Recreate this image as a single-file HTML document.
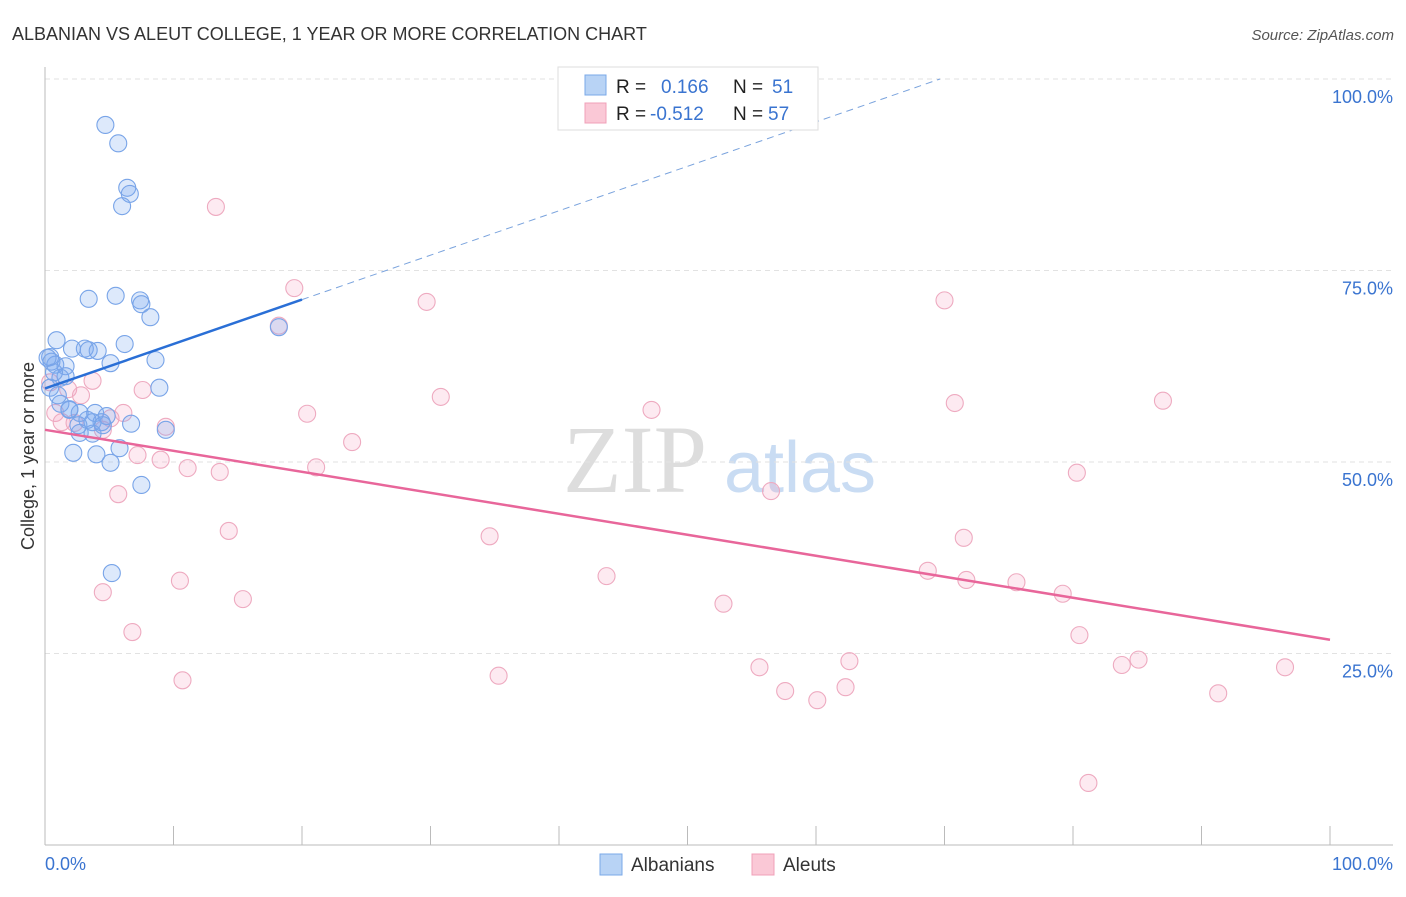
<!DOCTYPE html>
<html><head><meta charset="utf-8"><style>
body{margin:0;background:#fff;font-family:"Liberation Sans",sans-serif;}
</style></head><body>
<svg id="c" width="1406" height="892" xmlns="http://www.w3.org/2000/svg" style="font-family:'Liberation Sans',sans-serif">
<text x="12" y="40" font-size="18" fill="#333">ALBANIAN VS ALEUT COLLEGE, 1 YEAR OR MORE CORRELATION CHART</text>
<text x="1394" y="40" font-size="15" fill="#555" font-style="italic" text-anchor="end">Source: ZipAtlas.com</text>
<text x="635" y="492" font-size="96" fill="#ddd" font-family="Liberation Serif" text-anchor="middle">ZIP</text>
<text x="800" y="492" font-size="72" fill="#c9dcf3" text-anchor="middle">atlas</text>
<text x="34" y="456" font-size="18" fill="#333" text-anchor="middle" transform="rotate(-90 34 456)">College, 1 year or more</text>
<g id="grid"></g><g id="marks"></g>
<g>
<rect x="558" y="67" width="260" height="63" fill="#fff" stroke="#ddd"/>
<rect x="585" y="75" width="21" height="20" fill="#b8d3f5" stroke="#7aa8e8"/>
<rect x="585" y="103" width="21" height="20" fill="#fac8d6" stroke="#f0a0b8"/>
<text x="616" y="93" font-size="19" fill="#222">R = <tspan fill="#3a74d0" x="661">0.166</tspan><tspan fill="#222" x="733">N = </tspan><tspan fill="#3a74d0" x="772">51</tspan></text>
<text x="616" y="120" font-size="19" fill="#222">R = <tspan fill="#3a74d0" x="650">-0.512</tspan><tspan fill="#222" x="733">N = </tspan><tspan fill="#3a74d0" x="768">57</tspan></text>
</g>
<g>
<rect x="600" y="854" width="22" height="21" fill="#b8d3f5" stroke="#7aa8e8"/>
<text x="631" y="871" font-size="19" fill="#333">Albanians</text>
<rect x="752" y="854" width="22" height="21" fill="#fac8d6" stroke="#f0a0b8"/>
<text x="783" y="871" font-size="19" fill="#333">Aleuts</text>
</g>
</svg>
<script>
const yTicks=[25,50,75,100];
const yTickLabels=["25.0%","50.0%","75.0%","100.0%"];
const xTicks=[0,10,20,30,40,50,60,70,80,90,100];
const blueX=[4.7,5.7,6.4,6.6,6.0,3.4,5.5,7.4,7.5,8.2,0.9,3.1,3.4,4.1,2.1,6.2,5.1,8.6,0.4,0.8,0.5,1.6,1.2,1.6,8.9,0.4,1.2,1.9,2.7,3.9,4.8,4.4,3.7,2.6,6.7,9.4,2.7,3.7,5.8,2.2,4.0,5.1,7.5,5.2,18.2,1.9,1.0,3.3,4.5,0.2,0.7];
const blueY=[94.0,91.6,85.8,85.0,83.4,71.3,71.7,71.1,70.6,68.9,65.9,64.8,64.6,64.5,64.8,65.4,62.9,63.3,63.7,62.7,63.1,62.5,61.0,61.2,59.7,59.7,57.6,56.8,56.4,56.4,56.0,55.2,55.2,54.8,55.0,54.2,53.8,53.7,51.8,51.2,51.0,49.9,47.0,35.5,67.6,56.9,58.7,55.5,54.8,63.6,61.7];
const pinkX=[13.3,19.4,29.7,70.0,18.2,30.8,20.4,47.2,70.8,87.0,23.9,21.1,80.3,56.5,14.3,34.6,71.5,43.7,68.7,71.7,75.6,79.2,52.8,10.5,15.4,4.5,6.8,80.5,55.6,62.6,83.8,85.1,96.5,35.3,10.7,57.6,60.1,62.3,91.3,81.2,3.7,1.8,2.8,7.6,6.1,0.8,1.3,4.5,9.4,7.2,9.0,11.1,13.6,5.7,2.3,0.4,5.1];
const pinkY=[83.3,72.7,70.9,71.1,67.8,58.5,56.3,56.8,57.7,58.0,52.6,49.3,48.6,46.2,41.0,40.3,40.1,35.1,35.8,34.6,34.3,32.8,31.5,34.5,32.1,33.0,27.8,27.4,23.2,24.0,23.5,24.2,23.2,22.1,21.5,20.1,18.9,20.6,19.8,8.1,60.6,59.5,58.7,59.4,56.4,56.4,55.2,54.2,54.6,50.9,50.3,49.2,48.7,45.8,55.1,60.4,55.7];
const blueTrend=[59.6,0.58];
const pinkTrend=[54.2,-0.274];
const NS="http://www.w3.org/2000/svg";
const X=v=>45+v*12.85, Y=v=>845-v*7.66;
function mk(t,a,p){const e=document.createElementNS(NS,t);for(const k in a)e.setAttribute(k,a[k]);p.appendChild(e);return e;}
const g=document.getElementById('grid'),m=document.getElementById('marks');
yTicks.forEach((t,i)=>{
 const l=mk('line',{x1:45,x2:1393,y1:Y(t),y2:Y(t),stroke:'#e2e2e2','stroke-dasharray':'5,4'},g);
 
 
 const tx=mk('text',{x:1393,y:Y(t)+24,'font-size':18,fill:'#3a74d0','text-anchor':'end'},g);
 tx.textContent=yTickLabels[i];
 
 
});
mk('line',{x1:45,x2:45,y1:67,y2:845,stroke:'#bbb'},g);
mk('line',{x1:45,x2:1393,y1:845,y2:845,stroke:'#bbb'},g);
xTicks.forEach(t=>{const l=mk('line',{x1:X(t),x2:X(t),y1:826,y2:845,stroke:'#bbb'},g);
 
 });
const x0=mk('text',{x:45,y:870,'font-size':18,fill:'#3a74d0'},g);x0.textContent='0.0%';


const x1=mk('text',{x:1393,y:870,'font-size':18,fill:'#3a74d0','text-anchor':'end'},g);x1.textContent='100.0%';


pinkX.forEach((v,i)=>{const c=mk('circle',{cx:X(v),cy:Y(pinkY[i]),r:8.5,fill:'rgba(245,160,190,0.22)',stroke:'#eeaac0','stroke-width':1.1},m);
 
 });
blueX.forEach((v,i)=>{const c=mk('circle',{cx:X(v),cy:Y(blueY[i]),r:8.5,fill:'rgba(120,168,238,0.25)',stroke:'#78a4e8','stroke-width':1.1},m);
 
 });
const bEnd=(100-blueTrend[0])/blueTrend[1];
const bl=mk('line',{x1:X(0),y1:Y(blueTrend[0]),x2:X(20),y2:Y(blueTrend[0]+20*blueTrend[1]),stroke:'#2a6fd6','stroke-width':2.5},m);


const bd=mk('line',{x1:X(20),y1:Y(blueTrend[0]+20*blueTrend[1]),x2:X(bEnd),y2:Y(100),stroke:'#7aa3dd','stroke-width':1,'stroke-dasharray':'7,5'},m);


const pl=mk('line',{x1:X(0),y1:Y(pinkTrend[0]),x2:X(100),y2:Y(pinkTrend[0]+100*pinkTrend[1]),stroke:'#e8669a','stroke-width':2.5},m);


</script>
</body></html>
